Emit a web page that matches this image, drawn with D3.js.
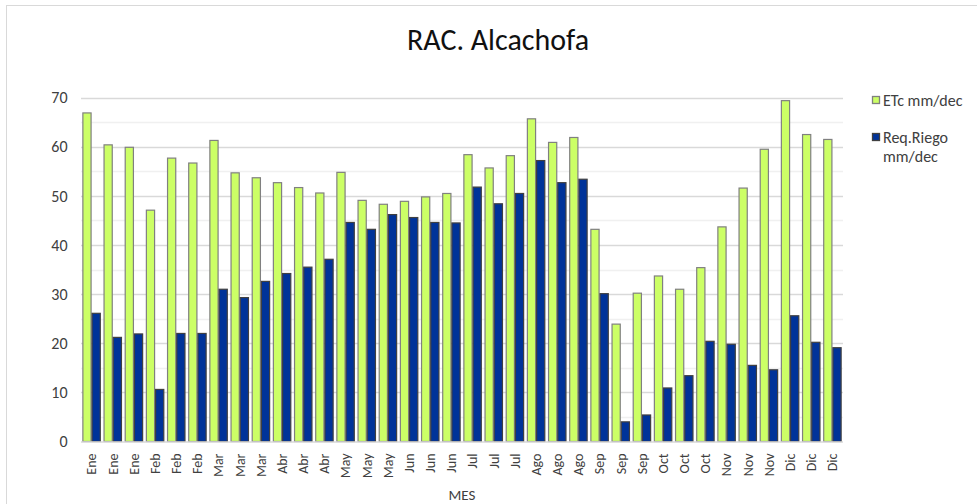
<!DOCTYPE html>
<html>
<head>
<meta charset="utf-8">
<script src="https://cdn.jsdelivr.net/npm/d3@7"></script>
<style>
  html, body { margin: 0; padding: 0; background: #fff; }
  svg { display: block; }
  text { font-family: Carlito, "Liberation Sans", Arial, sans-serif; fill: #404040; }
</style>
</head>
<body>
<svg id="chart" width="977" height="504"></svg>
<script>
const categories = ["Ene","Ene","Ene","Feb","Feb","Feb","Mar","Mar","Mar","Abr","Abr","Abr",
  "May","May","May","Jun","Jun","Jun","Jul","Jul","Jul","Ago","Ago","Ago",
  "Sep","Sep","Sep","Oct","Oct","Oct","Nov","Nov","Nov","Dic","Dic","Dic"];
const etc = [66.9,60.4,59.9, 47.1,57.7,56.7, 61.3,54.7,53.7, 52.7,51.7,50.6,
  54.8,49.1,48.3, 48.9,49.8,50.5, 58.4,55.7,58.2, 65.7,60.9,61.9,
  43.2,23.9,30.2, 33.7,31.0,35.4, 43.7,51.6,59.5, 69.4,62.5,61.5];
const riego = [26.1,21.2,21.9, 10.6,22.0,22.0, 31.0,29.3,32.6, 34.2,35.5,37.1,
  44.6,43.2,46.2, 45.6,44.6,44.5, 51.8,48.4,50.5, 57.2,52.7,53.4,
  30.1,4.0,5.4, 10.9,13.4,20.4, 19.8,15.5,14.6, 25.6,20.2,19.1];
const yTicks = [0,10,20,30,40,50,60,70];
const minorTicks = [5,15,25,35,45,55,65];
const seriesNames = ["ETc mm/dec", "Req.Riego mm/dec"];
const seriesColors = ["#ccff66", "#003399"];
const seriesStrokes = ["#808080", "#404040"];

(function () {
const svg = d3.select("#chart");
const pLeft = 81, pRight = 843, pTop = 97.7, pBottom = 441.5;
const FONT = "Carlito, 'Liberation Sans', Arial, sans-serif";

// outer chart border
svg.append("rect").attr("x", 6.5).attr("y", 5.5).attr("width", 1000).attr("height", 600)
  .attr("fill", "none").attr("stroke", "#d9d9d9").attr("stroke-width", 1);

const y = d3.scaleLinear().domain([0, 70]).range([pBottom, pTop]);
const x = d3.scaleBand().domain(d3.range(categories.length)).range([pLeft, pRight])
  .paddingInner(0.13).paddingOuter(0.065);
const bw = x.bandwidth() / 2;

// minor gridlines
svg.append("g").selectAll("line").data(minorTicks).join("line")
  .attr("x1", pLeft).attr("x2", pRight)
  .attr("y1", d => Math.round(y(d)) + 0.5).attr("y2", d => Math.round(y(d)) + 0.5)
  .attr("stroke", "#f0f0f0").attr("stroke-width", 1.5);
// major gridlines
svg.append("g").selectAll("line").data(yTicks.filter(d => d > 0)).join("line")
  .attr("x1", pLeft).attr("x2", pRight)
  .attr("y1", d => Math.round(y(d)) + 0.5).attr("y2", d => Math.round(y(d)) + 0.5)
  .attr("stroke", "#d9d9d9").attr("stroke-width", 1.5);

// y axis labels
const yAxis = d3.axisLeft(y).tickValues(yTicks).tickSize(0).tickPadding(0);
const gy = svg.append("g").attr("transform", `translate(67.5,0)`).call(yAxis);
gy.select(".domain").remove();
gy.selectAll("text").attr("font-size", 16).attr("fill", "#404040").style("font-family", FONT);

// bars
const data = categories.map((c, i) => ({ i, c, a: etc[i], b: riego[i] }));
svg.append("g").selectAll("rect").data(data).join("rect")
  .attr("x", d => x(d.i) + 0.5).attr("width", bw - 1)
  .attr("y", d => y(d.a)).attr("height", d => pBottom - y(d.a))
  .attr("fill", seriesColors[0]).attr("stroke", seriesStrokes[0]).attr("stroke-width", 1.2);
svg.append("g").selectAll("rect").data(data).join("rect")
  .attr("x", d => x(d.i) + bw + 0.5).attr("width", bw - 1)
  .attr("y", d => y(d.b)).attr("height", d => pBottom - y(d.b))
  .attr("fill", seriesColors[1]).attr("stroke", seriesStrokes[1]).attr("stroke-width", 1.2);

// x axis line
svg.append("line").attr("x1", pLeft).attr("x2", pRight)
  .attr("y1", pBottom + 0.5).attr("y2", pBottom + 0.5)
  .attr("stroke", "#d9d9d9").attr("stroke-width", 1.5);

// x labels
const xAxis = d3.axisBottom(x).tickFormat(i => categories[i]).tickSize(0).tickPadding(0);
const gx = svg.append("g").attr("transform", `translate(0,${pBottom})`).call(xAxis);
gx.select(".domain").remove();
gx.selectAll("text")
  .attr("font-size", 14).attr("fill", "#000").style("font-family", FONT)
  .attr("text-anchor", "end").attr("dy", "0.35em")
  .attr("y", 0).attr("x", 0)
  .attr("transform", "translate(0,12) rotate(-90)");

// axis title
svg.append("text").attr("x", (pLeft + pRight) / 2).attr("y", 500)
  .attr("text-anchor", "middle").attr("font-size", 15).text("MES");

// chart title
svg.append("text").attr("x", 498).attr("y", 50)
  .attr("text-anchor", "middle").attr("font-size", 30)
  .style("fill", "#111").text("RAC. Alcachofa");

// legend
const lg = svg.append("g");
lg.append("rect").attr("x", 872.5).attr("y", 96.5).attr("width", 7).attr("height", 7)
  .attr("fill", seriesColors[0]).attr("stroke", seriesStrokes[0]).attr("stroke-width", 1.3);
lg.append("text").attr("x", 883).attr("y", 105.5).attr("font-size", 16).text("ETc mm/dec");
lg.append("rect").attr("x", 872.5).attr("y", 133.5).attr("width", 7).attr("height", 7)
  .attr("fill", seriesColors[1]).attr("stroke", seriesStrokes[1]).attr("stroke-width", 1.3);
lg.append("text").attr("x", 883).attr("y", 143).attr("font-size", 16).text("Req.Riego");
lg.append("text").attr("x", 883).attr("y", 162).attr("font-size", 16).text("mm/dec");
})();
</script>
</body>
</html>
